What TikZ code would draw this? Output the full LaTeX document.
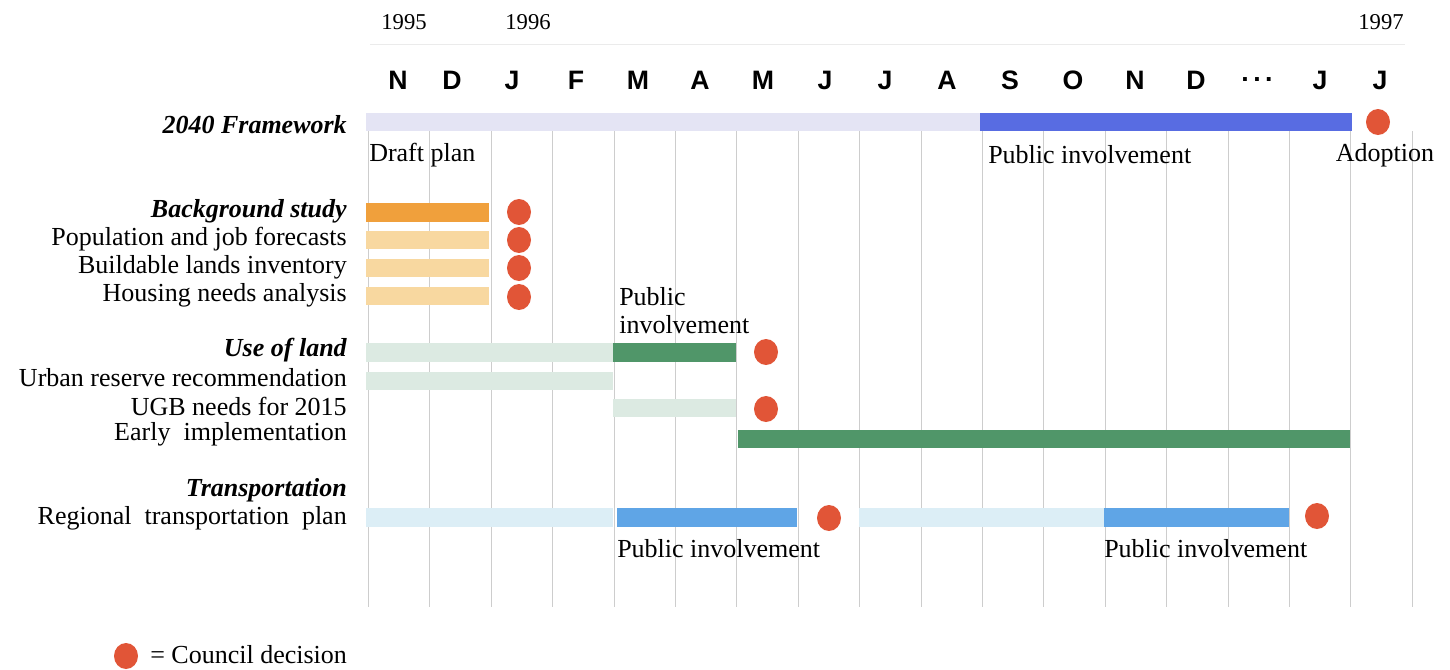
\documentclass[tikz,border=0pt]{standalone}
\usepackage{fontspec}
\setmainfont{Liberation Serif}
\newfontfamily\monthfont{Liberation Sans}

\definecolor{gridgray}{RGB}{205,205,205}
\definecolor{draftlav}{RGB}{228,228,244}
\definecolor{frameblue}{RGB}{88,108,226}
\definecolor{studyorange}{RGB}{240,160,60}
\definecolor{studylight}{RGB}{248,216,160}
\definecolor{landlight}{RGB}{220,234,226}
\definecolor{landgreen}{RGB}{80,150,105}
\definecolor{translight}{RGB}{220,238,246}
\definecolor{transblue}{RGB}{95,165,230}
\definecolor{councilred}{RGB}{225,85,55}

\begin{document}
\begin{tikzpicture}[x=0.75pt,y=0.75pt,yscale=-1,xscale=1,
    label/.style={anchor=east,inner sep=0pt,font=\fontsize{19.5}{22}\selectfont},
    head/.style={label,font=\fontsize{19.5}{22}\selectfont\bfseries\itshape},
    note/.style={anchor=west,inner sep=0pt,font=\fontsize{19.5}{22}\selectfont},
    month/.style={inner sep=0pt,font=\fontsize{20}{22}\selectfont\monthfont\bfseries},
    year/.style={inner sep=0pt,font=\fontsize{17}{20}\selectfont},
    decision/.style={fill=councilred}]
	\useasboundingbox (0,0) rectangle (1450,669);

	%Straight Lines: faint rule under the years
	\draw [color=gridgray!40, line width=0.6] (370,44) -- (1405,44) ;

	%Grid: month columns
	\foreach \i in {0,...,17}
		\draw [color=gridgray, line width=0.8] ({368.5+61.4*\i},131) -- ({368.5+61.4*\i},607) ;

	% Text Node: years
	\node [year] (y95) at (404,22) {1995};
	\node [year] (y96) at (528,22) {1996};
	\node [year] (y97) at (1381,22) {1997};

	% Text Node: months
	\foreach \m/\x [count=\k] in {N/398,D/452,J/512,F/576,M/638,A/700,M/763,J/825,J/885,A/947,S/1010,O/1073,N/1135,D/1196,{.\,.\,.}/1257,J/1320,J/1380}
		\node [month] (m\k) at (\x,80) {\m};

	%Shape: Bars, 2040 Framework
	\fill [draftlav] (366,113) rectangle (980,131) ;
	\fill [frameblue] (980,113) rectangle (1352,131) ;
	\fill [decision] (1378,122) circle [x radius=12, y radius=13] ;

	%Shape: Bars, Background study
	\fill [studyorange] (366,203) rectangle (489,222) ;
	\fill [studylight] (366,231) rectangle (489,249) ;
	\fill [studylight] (366,259) rectangle (489,277) ;
	\fill [studylight] (366,287) rectangle (489,305) ;
	\foreach \y in {212,240,268,297}
		\fill [decision] (519,\y) circle [x radius=12, y radius=13] ;

	%Shape: Bars, Use of land
	\fill [landlight] (366,343) rectangle (613,362) ;
	\fill [landgreen] (613,343) rectangle (736,362) ;
	\fill [landlight] (366,372) rectangle (613,390) ;
	\fill [landlight] (613,399) rectangle (736,417) ;
	\fill [landgreen] (738,430) rectangle (1350,448) ;
	\fill [decision] (766,352) circle [x radius=12, y radius=13] ;
	\fill [decision] (766,409) circle [x radius=12, y radius=13] ;

	%Shape: Bars, Transportation
	\fill [translight] (366,508) rectangle (613,527) ;
	\fill [transblue] (617,508) rectangle (797,527) ;
	\fill [translight] (859,508) rectangle (1104,527) ;
	\fill [transblue] (1104,508) rectangle (1289,527) ;
	\fill [decision] (829,518) circle [x radius=12, y radius=13] ;
	\fill [decision] (1317,516) circle [x radius=12, y radius=13] ;

	% Text Node: row labels
	\node [head] (framework) at (347,125) {2040 Framework};
	\node [head] (study) at (347,211) {Background study};
	\node [label] (forecast) at (347,239) {Population and job forecasts};
	\node [label] (lands) at (347,267) {Buildable lands inventory};
	\node [label] (housing) at (347,295) {Housing needs analysis};
	\node [head] (land) at (347,350) {Use of land};
	\node [label] (reserve) at (347,378) {Urban reserve recommendation};
	\node [label] (ugb) at (347,406) {UGB needs for 2015};
	\node [label] (early) at (347,434) {Early\ \ implementation};
	\node [head] (transport) at (347,490) {Transportation};
	\node [label] (rtp) at (347,518) {Regional\ \ transportation\ \ plan};

	% Text Node: bar notes
	\node [note] (draft) at (369,155) {Draft plan};
	\node [note] (pubfw) at (988,155) {Public involvement};
	\node [note,anchor=center] (adopt) at (1385,155) {Adoption};
	\node [note,align=left,font=\fontsize{19.5}{21}\selectfont] (publand) at (619,311) {Public\\involvement};
	\node [note] (pubrtp1) at (617,549) {Public involvement};
	\node [note] (pubrtp2) at (1104,549) {Public involvement};

	% Legend
	\fill [decision] (126,656) circle [x radius=12, y radius=13] ;
	\node [note] (legend) at (150,655) {= Council decision};
\end{tikzpicture}
\end{document}
